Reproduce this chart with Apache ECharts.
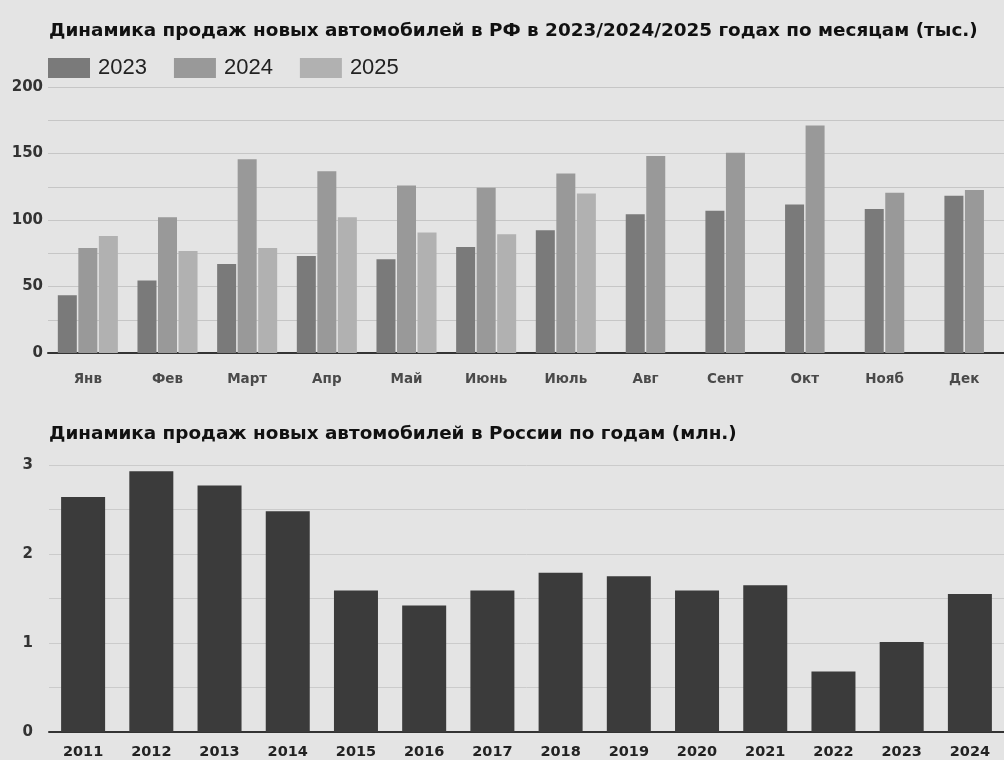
<!DOCTYPE html>
<html>
<head>
<meta charset="utf-8">
<script src="https://cdn.jsdelivr.net/npm/echarts@6/dist/echarts.min.js"></script>
<style>
  html, body { margin: 0; padding: 0; background: #e4e4e4; }
  #chart { width: 1004px; height: 760px; }
</style>
</head>
<body>
<div id="chart"></div>
<script>
// данные по месяцам (тыс.)
const months = ['Янв', 'Фев', 'Март', 'Апр', 'Май', 'Июнь', 'Июль', 'Авг', 'Сент', 'Окт', 'Нояб', 'Дек'];
const sales2023 = [43.5, 54.6, 67, 73, 70.4, 79.7, 92.3, 104.4, 106.9, 111.7, 108.2, 118.2];
const sales2024 = [79, 102, 145.7, 136.6, 126, 124.2, 135, 148.2, 150.6, 171, 120.5, 122.5];
const sales2025 = [88, 76.7, 79, 102, 90.6, 89.3, 120, null, null, null, null, null];
// данные по годам (млн.)
const years = ['2011', '2012', '2013', '2014', '2015', '2016', '2017', '2018', '2019', '2020', '2021', '2022', '2023', '2024'];
const salesYear = [2.64, 2.93, 2.77, 2.48, 1.59, 1.42, 1.59, 1.79, 1.75, 1.59, 1.65, 0.68, 1.01, 1.55];

const colors = { '2023': '#7a7a7a', '2024': '#999999', '2025': '#b1b1b1' };
const wide = 'DejaVu Sans, Verdana, sans-serif';
const arial = 'Liberation Sans, Arial, sans-serif';

// месяцы без 2025 рисуем на второй оси, чтобы пара столбцов была по центру
const hasAll = months.map((m, i) => sales2025[i] != null);
const pick = (arr, full) => arr.map((v, i) => (hasAll[i] === full ? v : null));

const barCommon = { type: 'bar', barWidth: 19, barGap: '8%' };
const myChart = echarts.init(document.getElementById('chart'));
myChart.setOption({
    backgroundColor: '#e4e4e4',
    animation: false,
    title: [
        {
            text: 'Динамика продаж новых автомобилей в РФ в 2023/2024/2025 годах по месяцам (тыс.)',
            left: 44, top: 17,
            textStyle: { fontFamily: wide, fontSize: 18.4, fontWeight: 'bold', color: '#111' }
        },
        {
            text: 'Динамика продаж новых автомобилей в России по годам (млн.)',
            left: 44, top: 420,
            textStyle: { fontFamily: wide, fontSize: 18.4, fontWeight: 'bold', color: '#111' }
        }
    ],
    legend: {
        data: ['2023', '2024', '2025'],
        left: 43, top: 52,
        itemWidth: 42, itemHeight: 20, itemGap: 27,
        icon: 'rect',
        textStyle: { fontFamily: arial, fontSize: 22, color: '#222', padding: [0, 0, 0, 3] }
    },
    grid: [
        { left: 48, right: -8, top: 87, height: 266 },
        { left: 49, right: -10, top: 465, height: 267 }
    ],
    xAxis: [
        {
            type: 'category', gridIndex: 0, data: months,
            axisLine: { lineStyle: { color: '#333', width: 2 } },
            axisTick: { show: false },
            axisLabel: { fontFamily: wide, fontSize: 13.5, fontWeight: 'bold', color: '#4a4a4a', margin: 19 }
        },
        {
            type: 'category', gridIndex: 0, data: months, show: false
        },
        {
            type: 'category', gridIndex: 1, data: years,
            axisLine: { lineStyle: { color: '#333', width: 2 } },
            axisTick: { show: false },
            axisLabel: { fontFamily: wide, fontSize: 14.5, fontWeight: 'bold', color: '#222', margin: 13 }
        }
    ],
    yAxis: [
        {
            type: 'value', gridIndex: 0, min: 0, max: 200, interval: 25,
            axisLine: { show: false }, axisTick: { show: false },
            axisLabel: {
                fontFamily: wide, fontSize: 15, fontWeight: 'bold', color: '#333', margin: 5,
                formatter: v => (v % 50 === 0 ? v : '')
            },
            splitLine: { lineStyle: { color: '#c6c6c6', width: 1 } }
        },
        {
            type: 'value', gridIndex: 1, min: 0, max: 3, interval: 0.5,
            axisLine: { show: false }, axisTick: { show: false },
            axisLabel: {
                fontFamily: wide, fontSize: 15, fontWeight: 'bold', color: '#333', margin: 16,
                formatter: v => (v % 1 === 0 ? v : '')
            },
            splitLine: { lineStyle: { color: '#cbcbcb', width: 1 } }
        }
    ],
    series: [
        { ...barCommon, name: '2023', xAxisIndex: 0, yAxisIndex: 0, data: pick(sales2023, true), itemStyle: { color: colors['2023'] } },
        { ...barCommon, name: '2024', xAxisIndex: 0, yAxisIndex: 0, data: pick(sales2024, true), itemStyle: { color: colors['2024'] } },
        { ...barCommon, name: '2025', xAxisIndex: 0, yAxisIndex: 0, data: pick(sales2025, true), itemStyle: { color: colors['2025'] } },
        { ...barCommon, name: '2023', xAxisIndex: 1, yAxisIndex: 0, data: pick(sales2023, false), itemStyle: { color: colors['2023'] } },
        { ...barCommon, name: '2024', xAxisIndex: 1, yAxisIndex: 0, data: pick(sales2024, false), itemStyle: { color: colors['2024'] } },
        {
            type: 'bar', name: 'годы', xAxisIndex: 2, yAxisIndex: 1, data: salesYear,
            barWidth: 44, itemStyle: { color: '#3b3b3b' }
        }
    ]
});
</script>
</body>
</html>
